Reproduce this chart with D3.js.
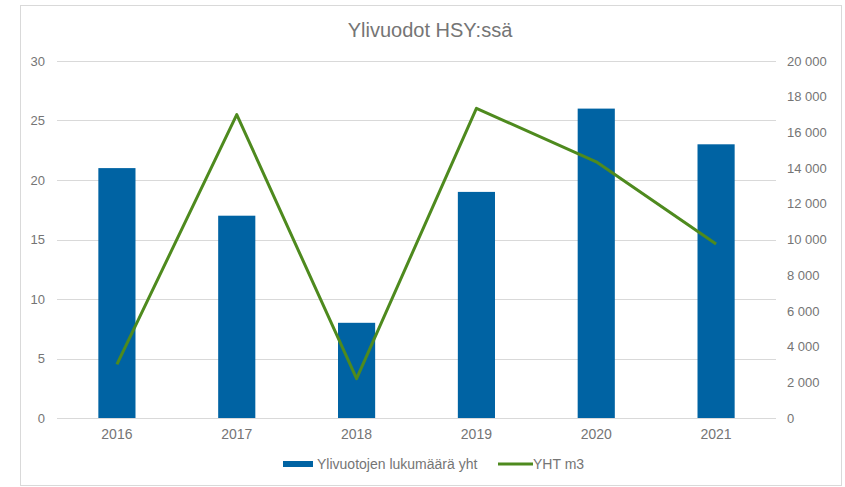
<!DOCTYPE html>
<html>
<head>
<meta charset="utf-8">
<script src="https://cdn.jsdelivr.net/npm/d3@7"></script>
<style>
  body { margin: 0; background: #fff; }
  svg { font-family: Arial, "Liberation Sans", sans-serif; }
  .tick text { fill: #757575; font-size: 13px; }
  .x.axis .tick text { font-size: 14px; }
</style>
</head>
<body>
<svg id="chart" width="845" height="487"></svg>
<script>
var years = ['2016', '2017', '2018', '2019', '2020', '2021'];
var counts = [21, 17, 8, 19, 26, 23];          // Ylivuotojen lukumäärä yht
var volumes = [3000, 17000, 2200, 17350, 14350, 9750]; // YHT m3
var leftTicks = [0, 5, 10, 15, 20, 25, 30];
var rightTicks = [0, 2000, 4000, 6000, 8000, 10000, 12000, 14000, 16000, 18000, 20000];

var data = years.map(function (y, i) {
    return { year: y, count: counts[i], vol: volumes[i] };
});

var svg = d3.select('#chart');

//chart frame
svg.append('rect')
    .attr('x', 20.5).attr('y', 5.5)
    .attr('width', 821).attr('height', 480)
    .attr('fill', '#fff')
    .attr('stroke', '#d9d9d9');

var margin = { top: 61, left: 57, right: 69, bottom: 69 };
var width = 845 - margin.left - margin.right;
var height = 487 - margin.top - margin.bottom;

var g = svg.append('g')
    .attr('transform', 'translate(' + margin.left + ',' + margin.top + ')');

var xScale = d3.scaleBand().domain(years).range([0, width]).paddingInner(0.69).paddingOuter(0.345);
var yLeft = d3.scaleLinear().domain([0, 30]).range([height, 0]);
var yRight = d3.scaleLinear().domain([0, 20000]).range([height, 0]);

//gridlines
g.append('g')
    .selectAll('line')
    .data(leftTicks)
    .enter().append('line')
    .attr('x1', 0).attr('x2', width)
    .attr('y1', function (d) { return Math.round(yLeft(d)) + 0.5; })
    .attr('y2', function (d) { return Math.round(yLeft(d)) + 0.5; })
    .attr('stroke', '#d9d9d9')
    .attr('stroke-width', 1);

var fmt = function (d) { return d3.format(',')(d).replace(/,/g, ' '); };

var leftAxis = d3.axisLeft(yLeft).tickValues(leftTicks).tickSize(0).tickPadding(12);
var rightAxis = d3.axisRight(yRight).tickValues(rightTicks).tickSize(0).tickPadding(11).tickFormat(fmt);
var xAxis = d3.axisBottom(xScale).tickSize(0).tickPadding(11);

g.append('g').attr('class', 'y axis').call(leftAxis)
    .call(function (s) { s.select('.domain').remove(); });
g.append('g').attr('class', 'y2 axis')
    .attr('transform', 'translate(' + width + ',0)')
    .call(rightAxis)
    .call(function (s) { s.select('.domain').remove(); });
g.append('g').attr('class', 'x axis')
    .attr('transform', 'translate(0,' + height + ')')
    .call(xAxis)
    .call(function (s) { s.select('.domain').remove(); });

//bars
g.selectAll('.bar')
    .data(data)
    .enter().append('rect')
    .attr('class', 'bar')
    .attr('x', function (d) { return xScale(d.year); })
    .attr('y', function (d) { return yLeft(d.count); })
    .attr('width', xScale.bandwidth())
    .attr('height', function (d) { return height - yLeft(d.count); })
    .attr('fill', '#0063a3');

//line on right axis
var line = d3.line()
    .x(function (d) { return xScale(d.year) + xScale.bandwidth() / 2; })
    .y(function (d) { return yRight(d.vol); });

g.append('path')
    .datum(data)
    .attr('d', line)
    .attr('fill', 'none')
    .attr('stroke', '#4e8a1e')
    .attr('stroke-width', 3)
    .attr('stroke-linejoin', 'round');

//title
svg.append('text')
    .attr('x', 430)
    .attr('y', 37)
    .attr('text-anchor', 'middle')
    .attr('fill', '#757575')
    .style('font-size', '20px')
    .text('Ylivuodot HSY:ssä');

//legend
var legend = svg.append('g').attr('transform', 'translate(283,464)');
legend.append('rect')
    .attr('x', 0).attr('y', -3)
    .attr('width', 30).attr('height', 6)
    .attr('fill', '#0063a3');
legend.append('text')
    .attr('x', 34).attr('y', 5)
    .attr('fill', '#757575')
    .style('font-size', '14px')
    .text('Ylivuotojen lukumäärä yht');
legend.append('line')
    .attr('x1', 215).attr('x2', 250)
    .attr('y1', 0).attr('y2', 0)
    .attr('stroke', '#4e8a1e')
    .attr('stroke-width', 3);
legend.append('text')
    .attr('x', 250).attr('y', 5)
    .attr('fill', '#757575')
    .style('font-size', '14px')
    .text('YHT m3');
</script>
</body>
</html>
